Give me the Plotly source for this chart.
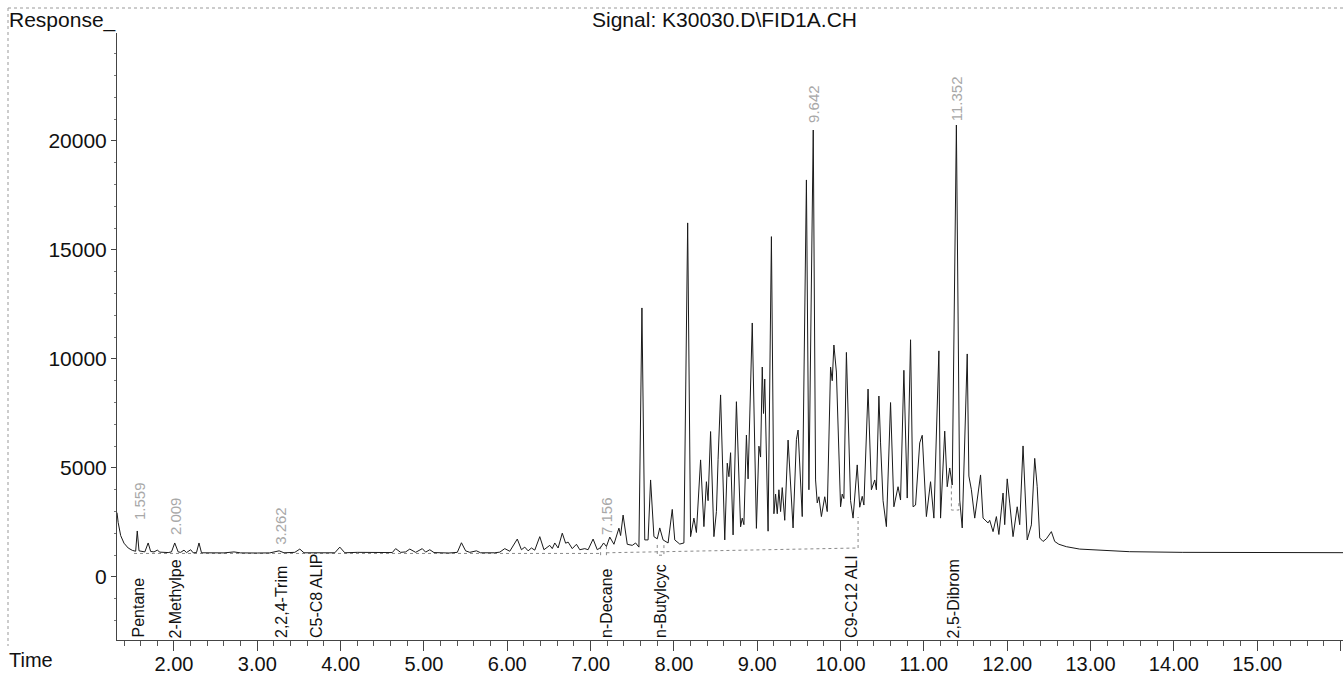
import plotly.graph_objects as go

# ---------------- data ----------------
rt_min = [
    1.316, 1.33, 1.36, 1.40, 1.45, 1.50, 1.54, 1.559, 1.58, 1.62, 1.65, 1.69, 1.72, 1.76, 1.80, 1.83,
    1.88, 1.93, 1.97, 2.009, 2.05, 2.08, 2.12, 2.15, 2.20, 2.23, 2.27, 2.30, 2.33, 2.45, 2.60, 2.72,
    2.80, 3.00, 3.15, 3.262, 3.32, 3.45, 3.51, 3.56, 3.70, 3.93, 3.99, 4.05, 4.20, 4.35, 4.50, 4.62,
    4.66, 4.72, 4.78, 4.83, 4.90, 4.98, 5.02, 5.07, 5.12, 5.30, 5.40, 5.45, 5.50, 5.55, 5.63, 5.68,
    5.85, 5.91, 5.97, 6.03, 6.12, 6.17, 6.21, 6.25, 6.29, 6.33, 6.39, 6.44, 6.51, 6.54, 6.57, 6.61,
    6.66, 6.70, 6.73, 6.78, 6.83, 6.87, 6.93, 6.97, 7.03, 7.08, 7.12, 7.156, 7.19, 7.23, 7.28, 7.34,
    7.36, 7.39, 7.44, 7.50, 7.54, 7.58, 7.616, 7.65, 7.69, 7.72, 7.76, 7.80, 7.83, 7.87, 7.93, 7.98,
    8.01, 8.07, 8.12, 8.165, 8.20, 8.24, 8.27, 8.32, 8.36, 8.39, 8.41, 8.44, 8.48, 8.51, 8.53, 8.56,
    8.61, 8.64, 8.66, 8.68, 8.71, 8.75, 8.80, 8.82, 8.84, 8.87, 8.89, 8.94, 8.99, 9.02, 9.04, 9.06,
    9.075, 9.09, 9.13, 9.17, 9.20, 9.22, 9.24, 9.26, 9.28, 9.30, 9.33, 9.37, 9.43, 9.47, 9.49, 9.52,
    9.54, 9.59, 9.62, 9.672, 9.70, 9.72, 9.74, 9.77, 9.81, 9.84, 9.88, 9.90, 9.92, 9.95, 9.97, 10.00,
    10.02, 10.04, 10.07, 10.12, 10.15, 10.20, 10.23, 10.26, 10.28, 10.33, 10.37, 10.41, 10.43, 10.46,
    10.48, 10.51, 10.55, 10.60, 10.64, 10.69, 10.72, 10.76, 10.80, 10.84, 10.87, 10.90, 10.95, 10.98,
    11.03, 11.08, 11.12, 11.18, 11.20, 11.25, 11.28, 11.31, 11.34, 11.39, 11.43, 11.46, 11.52, 11.54,
    11.57, 11.61, 11.68, 11.71, 11.77, 11.79, 11.83, 11.87, 11.90, 11.95, 11.97, 12.00, 12.03, 12.07,
    12.12, 12.15, 12.19, 12.24, 12.29, 12.33, 12.36, 12.39, 12.43, 12.47, 12.53, 12.57, 12.62, 12.71,
    12.87, 13.13, 13.47, 14.10, 16.03,
]
response = [
    2950, 2500, 1900, 1550, 1330, 1220, 1180, 2110, 1200, 1160, 1150, 1560, 1170, 1150, 1230, 1140,
    1130, 1120, 1150, 1560, 1150, 1130, 1230, 1120, 1250, 1110, 1120, 1560, 1110, 1100, 1105, 1150,
    1105, 1100, 1105, 1200, 1110, 1130, 1280, 1110, 1100, 1110, 1370, 1110, 1130, 1120, 1110, 1120,
    1300, 1130, 1150, 1280, 1130, 1300, 1140, 1250, 1120, 1100, 1130, 1570, 1200, 1130, 1200, 1110,
    1110, 1140, 1300, 1180, 1740, 1250, 1370, 1200, 1330, 1230, 1850, 1250, 1450, 1300, 1560, 1330,
    2010, 1550, 1600, 1300, 1500, 1250, 1300, 1250, 1740, 1250, 1350, 1560, 1400, 1830, 1500, 2240,
    1900, 2840, 1500, 1450, 1560, 1370, 12340, 1700, 1700, 4450, 1850, 1750, 2250, 1700, 1560, 3100,
    1700, 1510, 1560, 16240, 1850, 2700, 2040, 5370, 2310, 4370, 3500, 6670, 1850, 3000, 5400, 8350,
    1700, 5220, 4600, 5700, 1930, 8040, 2300, 2700, 2400, 6510, 4500, 11650, 2230, 6000, 5500, 9630,
    7500, 9080, 2100, 15610, 2900, 3800, 2900, 4000, 3000, 4100, 2600, 6280, 2250, 6300, 6740, 4000,
    2770, 18210, 4000, 20500, 4450, 3400, 3680, 2770, 3680, 3000, 9630, 9000, 10640, 9400, 7000, 3220,
    3800, 3600, 10300, 3500, 2700, 5140, 3200, 3700, 3300, 8620, 4000, 4450, 4000, 8300,
    6150, 3500, 2310, 8000, 3220, 4140, 3530, 9480, 3620, 10880, 3220, 3300, 6150, 6500,
    2770, 4370, 2700, 10370, 2700, 6690, 4140, 5000, 4220, 20730, 3530, 2250, 10230, 4630,
    4000, 2700, 4680, 2700, 2480, 2600, 2080, 2770, 1950, 3850, 2400, 4500, 3390, 1850,
    3220, 2400, 6010, 1700, 2390, 5440, 4140, 1790, 1630, 1750, 2080, 1630, 1500, 1390,
    1280, 1240, 1160, 1130, 1115,
]

# integration baseline / peak-event segments (time, response) pairs
baseline_t = [1.52, 7.13, None, 7.12, 7.12, None, 7.19, 7.19, None, 7.19, 10.21, None,
              10.21, 10.21, None, 7.80, 7.80, 7.88, 7.88, None, 11.33, 11.33, 11.42, 11.42]
baseline_v = [1080, 1080, None, 1000, 1400, None, 1000, 1400, None, 1110, 1330, None,
              1330, 2750, None, 1470, 1000, 1000, 1470, None, 4200, 3070, 3070, 3500]

# retention-time labels (text, time, response at label base)
rt_text = ["1.559", "2.009", "3.262", "7.156", "9.642", "11.352"]
rt_pos_t = [1.58, 2.012, 3.27, 7.184, 9.668, 11.384]
rt_pos_v = [2520, 1830, 1375, 1830, 20730, 20830]

# compound names (text, time)
cmp_text = ["Pentane", "2-Methylpe", "2,2,4-Trim", "C5-C8 ALIP", "n-Decane", "n-Butylcyc",
            "C9-C12 ALI", "2,5-Dibrom"]
cmp_t = [1.562, 2.024, 3.284, 3.704, 7.19, 7.832, 10.132, 11.36]

x_major = [2, 3, 4, 5, 6, 7, 8, 9, 10, 11, 12, 13, 14, 15, 16]
x_labels = ["2.00", "3.00", "4.00", "5.00", "6.00", "7.00", "8.00", "9.00", "10.00", "11.00",
            "12.00", "13.00", "14.00", "15.00", ""]
y_major = [0, 5000, 10000, 15000, 20000]

# ---------------- figure ----------------
FONT = "Liberation Sans, Arial, sans-serif"
W, H = 1343, 675
ML, MR, MT, MB = 117, 0, 33, 35
PW, PH = W - ML - MR, H - MT - MB

def px(xp):
    return (xp - ML) / PW

def py(yp):
    return (H - MB - yp) / PH

fig = go.Figure()
fig.add_trace(go.Scatter(x=baseline_t, y=baseline_v, mode="lines",
                         line=dict(color="#8a8a8a", width=1, dash="dot"),
                         hoverinfo="skip", showlegend=False))
fig.add_trace(go.Scatter(x=rt_min, y=response, mode="lines",
                         line=dict(color="#1a1a1a", width=1),
                         showlegend=False))

minor_x = [round(1.4 + 0.2 * i, 2) for i in range(74)]
minor_x = [v for v in minor_x if abs(v - round(v)) > 1e-6 and v <= 16.0]

fig.update_xaxes(range=[1.316, 16.03], showline=True, linecolor="#444", linewidth=1,
                 showgrid=False, zeroline=False, ticks="outside", ticklen=10, tickcolor="#444",
                 tickmode="array", tickvals=x_major, ticktext=x_labels, automargin=False,
                 ticklabelstandoff=-4,
                 tickfont=dict(family=FONT, size=20, color="#111"),
                 minor=dict(ticks="outside", ticklen=5, tickcolor="#555",
                            tickmode="array", tickvals=minor_x))
fig.update_yaxes(range=[-2890, 24950], showline=True, linecolor="#444", linewidth=1,
                 showgrid=False, zeroline=False, ticks="outside", ticklen=5, tickcolor="#444",
                 tickmode="array", tickvals=y_major, ticktext=[str(v) for v in y_major],
                 automargin=False, tickfont=dict(family=FONT, size=21, color="#111"),
                 minor=dict(ticks="outside", ticklen=2, tickcolor="#777", dtick=1000, tick0=0))

ann = []
for t, tx, v in zip(rt_pos_t, rt_text, rt_pos_v):
    ann.append(dict(x=t, y=v, xref="x", yref="y", text=tx, showarrow=False, textangle=-90,
                    xanchor="center", yanchor="bottom",
                    font=dict(family=FONT, size=15, color="#a8a8a8")))
for t, tx in zip(cmp_t, cmp_text):
    ann.append(dict(x=t, y=0, xref="x", yref="paper", text=tx, showarrow=False, textangle=-90,
                    xanchor="center", yanchor="bottom",
                    font=dict(family=FONT, size=16, color="#111")))
ann.append(dict(x=px(7), y=py(6), xref="paper", yref="paper", text="Response_", showarrow=False,
                xanchor="left", yanchor="top", font=dict(family=FONT, size=21, color="#111")))
ann.append(dict(x=px(590), y=py(6), xref="paper", yref="paper", text="Signal: K30030.D\\FID1A.CH",
                showarrow=False, xanchor="left", yanchor="top",
                font=dict(family=FONT, size=21, color="#111")))
ann.append(dict(x=px(7), y=py(647), xref="paper", yref="paper", text="Time", showarrow=False,
                xanchor="left", yanchor="top", font=dict(family=FONT, size=20, color="#111")))

shapes = [
    dict(type="line", xref="paper", yref="paper", x0=px(8), x1=px(1343), y0=py(8), y1=py(8),
         line=dict(color="#999", width=1, dash="dot")),
    dict(type="line", xref="paper", yref="paper", x0=px(8), x1=px(8), y0=py(8), y1=py(646),
         line=dict(color="#999", width=1, dash="dot")),
]

fig.update_layout(width=W, height=H, margin=dict(l=ML, r=MR, t=MT, b=MB, pad=0, autoexpand=False),
                  paper_bgcolor="white", plot_bgcolor="white", annotations=ann, shapes=shapes,
                  showlegend=False, font=dict(family=FONT))

fig.write_html("out.html")
